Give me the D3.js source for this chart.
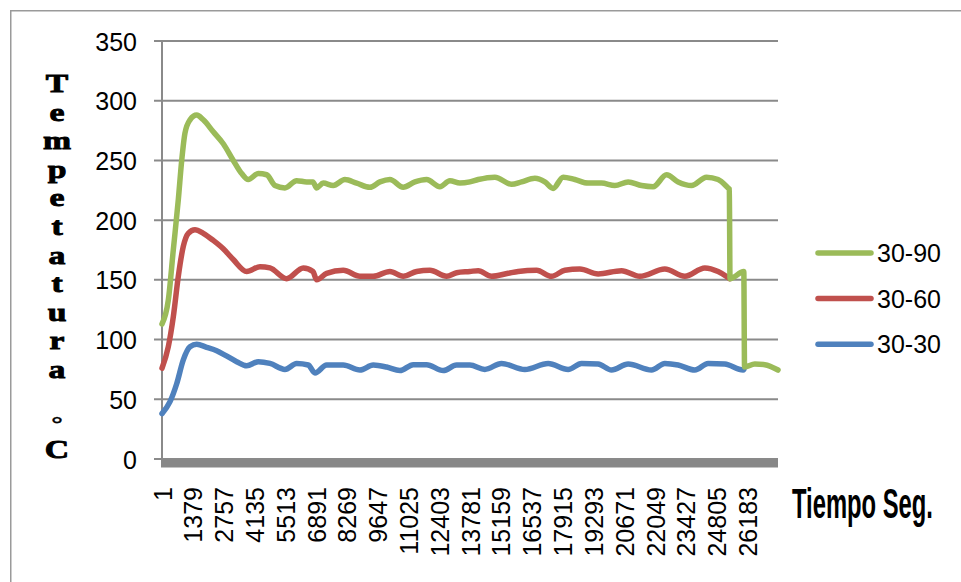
<!DOCTYPE html>
<html>
<head>
<meta charset="utf-8">
<script src="https://cdn.jsdelivr.net/npm/d3@7/dist/d3.min.js"></script>
<style>
  body { margin: 0; background: #fff; }
  svg { display: block; }
</style>
</head>
<body>
<svg id="chart" width="961" height="582"></svg>
<script>
// Temperature readings [second, °C] for each run
const temp3090 = [
  [1,113],[283,133],[506,175],[730,217],[882,250],[1029,273],[1253,284],[1552,288],
  [1847,284],[2294,274],[2741,264],[3188,250],[3564,239],[3859,234],[4306,239],[4681,238],
  [5052,229],[5499,227],[6022,233],[6469,232],[6751,232],[6916,227],[7211,231],[7658,229],
  [8181,234],[8704,231],[9299,227.5],[9746,232],[10193,234],[10787,227.5],[11310,232],[11833,234],
  [12428,228],[12875,233],[13322,231],[13768,232],[14140,234],[14886,236],[15633,230],[16080,232],
  [16674,235],[17121,232],[17492,226.6],[17939,236],[18462,234],[19057,231],[19656,231],[20250,229],
  [20845,232],[21444,229],[21962,228],[22561,238],[23080,232],[23678,229],[24349,236],[24867,234],
  [25314,227],[25370,226],[25400,151],[26017,157],[26050,77],[26509,79.5],[26956,79],[27546,74.5]
];
const temp3060 = [
  [1,76],[283,94],[506,119],[730,153],[953,178],[1177,189],[1476,192],[1847,189],
  [2294,183],[2741,176],[3188,167],[3787,157],[4382,161],[4829,160],[5575,151],[6317,160],
  [6751,157],[6916,150],[7363,155.5],[8105,158],[8852,153],[9446,153],[10193,157],[10787,153],
  [11386,157],[11981,158],[12727,153],[13174,156],[13768,157],[14140,157.7],[14738,153],[15481,155.5],
  [15928,157],[16750,158],[17420,153],[18015,158],[18686,159],[19504,155],[20550,157.7],[21367,153],
  [22485,159],[23379,153],[24273,160],[24868,157],[25314,152],[25390,151]
];
const temp3030 = [
  [1,38],[359,48],[658,63],[953,83],[1253,94],[1552,96],[1999,93.5],[2446,90.7],
  [2817,87],[3340,81.5],[3787,78],[4306,81.5],[4829,80],[5499,75],[6022,80],[6541,78.7],
  [6840,72],[7363,78.7],[8105,78.7],[8852,74.5],[9446,78.7],[10045,77],[10640,74],[11234,79],
  [11833,79],[12575,74],[13174,78.7],[13768,78.7],[14439,75],[15185,80],[16227,75],[17269,80],
  [18163,75],[18760,80],[19504,79.5],[20103,74.5],[20845,79.5],[21890,74.5],[22485,80],[23080,78.7],
  [23827,74.5],[24420,80],[25166,79.5],[25985,74.5],[26017,75]
];

const seriesNames = ["30-90", "30-60", "30-30"];
const seriesColors = ["#9BBB59", "#C0504D", "#4F81BD"];
const xTickValues = [1,1379,2757,4135,5513,6891,8269,9647,11025,12403,13781,15159,16537,17915,19293,20671,22049,23427,24805,26183];
const yTickValues = [0,50,100,150,200,250,300,350];
const lastSecond = 27546;
const yTitleLetters = "Tempetatura";

const svg = d3.select("#chart");
const sans = "'Liberation Sans', Arial, sans-serif";
const serif = "'Liberation Serif', 'Times New Roman', serif";
const grid = "#8a8a8a";

const x = d3.scaleLinear().domain([1, lastSecond]).range([162, 778]);
const y = d3.scaleLinear().domain([0, 350]).range([459, 41]);

// chart area frame (top and left edges)
svg.append("path")
  .attr("d", "M10.75,582 V10.75 H961")
  .attr("fill", "none").attr("stroke", "#9a9a9a").attr("stroke-width", 1.5);

// horizontal gridlines with short ticks on the left
svg.append("g").selectAll("line").data(yTickValues).join("line")
  .attr("x1", 154).attr("x2", 778)
  .attr("y1", d => y(d)).attr("y2", d => y(d))
  .attr("stroke", grid).attr("stroke-width", 2);

// vertical value axis
svg.append("line")
  .attr("x1", 162).attr("x2", 162).attr("y1", y(350)).attr("y2", y(0))
  .attr("stroke", grid).attr("stroke-width", 2);

// thick category axis band
svg.append("rect")
  .attr("x", 161).attr("y", 459.5).attr("width", 617).attr("height", 8)
  .attr("fill", "#878787");

// y tick labels
const yAxis = svg.append("g").attr("transform", "translate(162,0)")
  .call(d3.axisLeft(y).tickValues(yTickValues).tickSize(0).tickPadding(25));
yAxis.select(".domain").remove();
yAxis.selectAll("text").attr("font-family", sans).attr("font-size", 25).attr("fill", "#000").attr("dy", "0.36em");

// x tick labels, rotated
const xAxis = svg.append("g").attr("transform", "translate(0,467)")
  .call(d3.axisBottom(x).tickValues(xTickValues).tickFormat(d3.format("d")).tickSize(0));
xAxis.select(".domain").remove();
xAxis.selectAll("text")
  .attr("font-family", sans).attr("font-size", 25).attr("fill", "#000")
  .attr("transform", "rotate(-90)")
  .attr("x", -20).attr("y", 0).attr("dy", "0.36em")
  .style("text-anchor", "end");

// series lines
const line = d3.line().x(d => x(d[0])).y(d => y(d[1])).curve(d3.curveMonotoneX);
const series = [temp3090, temp3060, temp3030];
[2, 1, 0].forEach(i => {
  svg.append("path")
    .attr("d", line(series[i]))
    .attr("fill", "none")
    .attr("stroke", seriesColors[i])
    .attr("stroke-width", 5.5)
    .attr("stroke-linejoin", "round")
    .attr("stroke-linecap", "round");
});

// legend
const legend = svg.append("g").selectAll("g").data(seriesNames).join("g")
  .attr("transform", (d, i) => `translate(0,${253 + i * 45.6})`);
legend.append("line")
  .attr("x1", 818).attr("x2", 871).attr("y1", 0).attr("y2", 0)
  .attr("stroke", (d, i) => seriesColors[i]).attr("stroke-width", 5.5).attr("stroke-linecap", "round");
legend.append("text")
  .attr("x", 877).attr("dy", "0.36em")
  .attr("font-family", sans).attr("font-size", 25).attr("fill", "#000")
  .text(d => d);

// x-axis title: condensed, scaled to a fixed width
const xTitle = svg.append("text")
  .attr("font-family", "'Liberation Sans Narrow', 'Liberation Sans', Arial, sans-serif")
  .attr("font-size", 42).attr("font-weight", "bold")
  .attr("fill", "#000")
  .text("Tiempo Seg.");
const xTitleWidth = xTitle.node().getComputedTextLength();
xTitle.attr("transform", `translate(792,518) scale(${141 / xTitleWidth},1)`);

// y-axis title, one letter per line (widened bold serif)
const yTitle = svg.append("g");
const titleLetter = (t, baseline, size) => yTitle.append("text")
  .attr("transform", `translate(57,${baseline}) scale(1.32,1)`)
  .attr("font-family", serif).attr("font-weight", "bold")
  .attr("font-size", size).attr("fill", "#000").attr("text-anchor", "middle")
  .attr("stroke", "#000").attr("stroke-width", 0.9)
  .text(t);
yTitleLetters.split("").forEach((ch, i) => titleLetter(ch, 92 + i * 28.6, 25.5));
titleLetter("°", 431, 22).attr("stroke-width", 0.4);
titleLetter("C", 458, 25.5);
</script>
</body>
</html>
